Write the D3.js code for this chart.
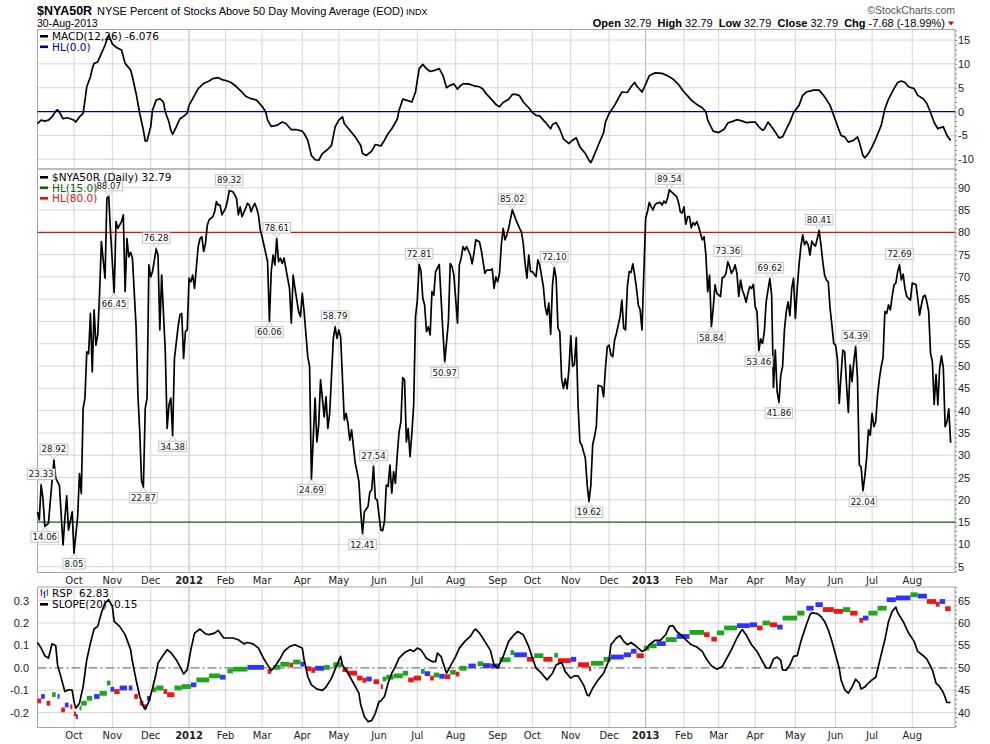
<!DOCTYPE html>
<html>
<head>
<meta charset="utf-8">
<script src="https://cdn.jsdelivr.net/npm/d3@7"></script>
<style>
body { margin: 0; background: #fff; }
</style>
</head>
<body>
<svg width="990" height="744" font-family="DejaVu Sans, Verdana, sans-serif"></svg>
<script>
// session = trading day counted from 2-Sep-2011 (session 0) to 30-Aug-2013 (session 500)
var monthNames = ["Oct","Nov","Dec","2012","Feb","Mar","Apr","May","Jun","Jul","Aug","Sep",
                  "Oct","Nov","Dec","2013","Feb","Mar","Apr","May","Jun","Jul","Aug"];
var monthSessions = [20,41,62,83,103,123,145,165,187,208,229,252,271,292,313,333,354,373,393,415,437,457,479];

var macdTicks = [15,10,5,0,-5,-10];
var mainTicks = [90,85,80,75,70,65,60,55,50,45,40,35,30,25,20,15,10,5];
var rspTicks = [65,60,55,50,45,40];
var slopeTicks = [0.3,0.2,0.1,0.0,-0.1,-0.2];

// $NYA50R daily close [session, value]
var nya50r = [[0,17.3],[1,15.5],[2,23.33],[3,20.3],[4,14.06],[6,14.7],[7,19.6],[9,28.92],[10,24.8],[12,23.3],
[14,9.9],[15,15.8],[16,20.9],[17,13.2],[19,17.3],[20,8.05],[22,16.2],[23,25.9],[24,21.4],[25,40.5],
[26,42.8],[27,53.2],[28,52.8],[29,61.8],[30,48.7],[31,62.6],[32,54.7],[33,57.0],[34,66.3],[35,77.9],
[37,69.7],[38,87.6],[39,88.07],[40,80.1],[42,66.45],[43,82.4],[44,80.9],[46,82.4],[47,83.9],[48,66.7],
[49,78.6],[50,74.5],[51,75.5],[52,74.2],[54,58.8],[55,43.5],[56,35.3],[57,24.1],[58,22.87],[59,40.5],
[60,42.8],[61,72.7],[62,70.0],[63,71.2],[65,76.28],[66,74.9],[67,58.1],[68,70.4],[70,53.2],[71,36.0],
[72,41.3],[73,42.8],[74,34.38],[75,51.7],[77,58.8],[78,61.5],[79,61.8],[80,51.7],[81,57.7],[82,58.1],
[83,69.7],[84,68.9],[85,70.4],[86,67.4],[88,76.8],[89,78.6],[90,79.0],[91,75.7],[92,77.5],[93,81.6],
[94,82.8],[96,83.5],[97,84.6],[98,86.9],[99,86.1],[100,86.1],[101,83.9],[103,85.4],[104,87.0],[105,89.32],
[107,89.1],[108,88.4],[109,87.6],[110,83.9],[111,85.7],[112,83.5],[114,85.4],[115,86.5],[116,86.1],[117,84.6],
[118,85.7],[119,86.5],[120,85.4],[121,83.9],[122,80.5],[123,79.0],[125,75.3],[126,73.4],[127,60.06],[128,71.2],
[129,74.9],[130,72.7],[131,78.61],[132,73.4],[133,74.2],[134,73.0],[135,74.2],[136,71.9],[138,67.4],[139,59.6],
[140,70.4],[141,67.4],[143,62.2],[144,61.1],[145,66.3],[146,62.2],[148,52.1],[149,49.9],[150,24.69],[151,33.8],
[152,42.8],[153,33.0],[154,36.8],[155,46.9],[156,42.8],[157,38.6],[158,43.1],[159,36.0],[160,39.4],[162,56.2],
[163,58.79],[164,56.2],[165,58.1],[166,56.6],[168,37.9],[169,39.4],[170,37.1],[171,33.4],[172,35.7],[174,28.2],
[175,26.3],[176,24.1],[177,17.3],[178,12.41],[179,17.3],[181,18.5],[182,21.8],[183,22.2],[184,27.54],[185,20.3],
[186,20.0],[188,13.2],[189,13.1],[190,15.1],[191,23.3],[192,23.0],[193,27.8],[194,21.5],[195,26.3],[196,23.7],
[197,30.1],[198,35.3],[199,37.5],[200,47.4],[201,46.9],[202,33.0],[203,36.0],[204,29.7],[205,34.9],[206,41.3],
[207,61.1],[208,64.8],[209,72.81],[210,71.2],[211,65.2],[212,63.7],[213,57.7],[214,58.8],[215,57.0],[216,66.7],
[217,65.9],[218,71.2],[220,72.8],[221,65.2],[222,57.7],[223,50.97],[225,59.9],[226,73.0],[227,72.3],[228,70.4],
[230,59.6],[231,72.7],[232,74.2],[233,76.8],[234,76.0],[235,76.8],[237,74.9],[238,72.9],[239,75.3],[240,78.3],
[242,77.9],[243,76.0],[244,73.4],[245,70.8],[246,71.5],[248,71.5],[249,71.8],[250,67.4],[251,70.0],[252,68.9],
[253,70.8],[254,77.2],[255,80.9],[256,78.3],[257,79.4],[258,80.9],[260,85.02],[261,83.9],[262,82.8],[264,80.9],
[265,80.1],[266,77.5],[267,73.0],[268,69.7],[269,74.9],[270,71.2],[271,71.2],[273,70.0],[274,73.8],[275,72.7],
[277,67.8],[278,63.3],[279,61.5],[280,64.1],[281,57.1],[282,68.2],[283,72.10],[284,69.7],[285,58.5],[286,57.7],
[287,47.2],[288,45.0],[289,47.2],[290,44.9],[291,49.3],[292,56.8],[293,49.9],[294,50.3],[295,56.4],[296,41.3],
[297,33.0],[298,32.3],[300,29.3],[301,23.3],[302,19.62],[303,23.3],[304,32.3],[305,34.2],[306,36.4],[307,45.7],
[309,45.4],[310,43.1],[311,49.5],[312,54.3],[313,54.7],[314,52.5],[315,52.1],[316,55.8],[317,57.3],[318,59.2],
[319,61.1],[320,64.8],[321,58.5],[322,58.1],[323,67.8],[324,71.2],[325,71.0],[326,72.9],[327,70.4],[328,67.4],
[329,63.7],[330,62.6],[331,58.1],[333,83.1],[334,84.6],[335,86.7],[336,85.7],[337,85.0],[338,86.1],[339,86.5],
[341,86.7],[342,86.1],[343,87.0],[344,86.5],[345,87.6],[346,89.54],[347,89.1],[349,88.4],[350,88.0],[351,86.7],
[352,84.6],[353,84.3],[354,85.7],[355,81.8],[356,83.5],[357,83.5],[358,81.0],[359,82.2],[360,81.6],[361,82.4],
[362,81.3],[363,79.8],[364,78.3],[365,79.0],[366,74.9],[367,66.7],[368,70.4],[369,58.84],[370,62.9],[371,68.2],
[372,66.3],[374,65.6],[375,69.8],[376,70.0],[377,70.8],[378,73.36],[379,72.3],[380,70.8],[381,71.5],[382,72.7],
[383,70.8],[384,65.6],[385,69.3],[386,67.0],[387,65.9],[388,64.3],[389,66.3],[390,67.8],[391,67.4],[392,68.3],
[393,63.3],[394,62.2],[395,53.46],[396,56.1],[397,55.1],[398,57.7],[399,64.4],[401,69.62],[402,65.9],[403,45.2],
[404,53.6],[405,44.3],[406,41.86],[407,48.0],[408,49.9],[409,58.1],[410,62.2],[411,64.4],[412,61.3],[413,67.4],
[414,69.7],[415,60.7],[416,67.4],[417,72.7],[418,76.8],[419,79.4],[420,77.2],[421,78.0],[422,77.2],[423,74.9],
[424,78.0],[425,77.3],[426,76.9],[427,78.6],[428,80.41],[429,77.2],[430,73.4],[431,70.4],[432,69.3],[433,68.9],
[434,62.9],[435,59.2],[436,55.1],[437,54.7],[438,51.7],[439,41.6],[440,48.0],[441,53.6],[442,53.2],[443,45.8],
[444,39.6],[445,50.2],[446,46.5],[447,51.0],[448,54.39],[449,47.2],[450,27.8],[451,27.4],[452,22.04],[453,25.2],
[454,29.3],[455,35.7],[456,34.5],[457,39.4],[458,36.4],[459,37.5],[460,43.5],[461,47.2],[462,49.9],[463,51.9],
[464,62.2],[465,61.8],[466,63.7],[467,62.6],[468,65.6],[469,68.2],[470,68.6],[471,71.2],[472,72.69],[473,69.3],
[474,70.6],[475,67.4],[476,65.6],[477,65.2],[478,64.8],[479,68.6],[481,68.3],[482,65.2],[483,61.4],[484,63.7],
[485,65.6],[486,65.9],[487,64.4],[488,62.2],[489,52.9],[490,51.0],[491,41.4],[492,48.1],[493,41.3],[494,49.5],
[495,52.3],[496,49.6],[497,36.4],[498,37.5],[499,40.4],[500,32.79]];

var peakLabels = [23.33,28.92,88.07,76.28,89.32,78.61,58.79,27.54,72.81,85.02,72.10,89.54,73.36,69.62,80.41,54.39,72.69];
var troughLabels = [14.06,8.05,66.45,22.87,34.38,60.06,24.69,12.41,50.97,19.62,58.84,53.46,41.86,22.04];

// MACD(12,26) [session, value]
var macd = [[0,-2.5],[2,-1.8],[4,-2.0],[6,-1.8],[8,-1.1],[10,0.1],[11,0.4],[12,-0.1],[14,-1.5],[16,-1.3],
[18,-1.5],[20,-1.8],[21,-2.2],[23,-1.1],[25,-0.4],[26,2.4],[27,5.2],[29,7.3],[30,9.0],[31,10.1],[33,10.4],
[35,12.2],[37,13.9],[38,15.1],[39,16.0],[41,14.2],[43,13.5],[46,12.9],[48,10.1],[51,8.7],[52,7.3],[54,3.8],
[56,-0.4],[58,-3.9],[59,-6.2],[60,-6.1],[62,-3.2],[63,0.3],[65,2.4],[67,2.7],[69,2.0],[70,-0.1],[72,-2.2],
[73,-3.9],[74,-4.8],[76,-3.2],[78,-1.5],[80,-1.0],[82,-0.3],[83,1.3],[85,2.7],[88,4.8],[91,5.9],[94,6.4],
[96,6.9],[99,7.1],[101,6.7],[104,6.4],[106,6.1],[109,5.2],[112,4.1],[114,3.2],[117,2.7],[120,2.4],[123,1.1],
[125,-0.1],[126,-1.8],[128,-3.1],[131,-2.9],[134,-2.2],[136,-2.5],[139,-3.8],[142,-3.8],[145,-4.1],[146,-4.6],
[148,-6.0],[150,-9.2],[152,-10.1],[154,-10.2],[156,-8.8],[159,-7.9],[161,-7.1],[163,-3.2],[165,-1.8],[167,-1.1],
[168,-2.5],[171,-3.9],[174,-5.3],[177,-7.1],[178,-8.8],[180,-9.2],[183,-8.3],[185,-6.9],[188,-7.2],[190,-6.0],
[192,-4.6],[194,-3.6],[197,-1.6],[198,0.3],[200,2.6],[202,2.4],[205,2.0],[207,4.1],[208,6.6],[209,9.0],
[211,9.9],[213,9.0],[215,8.4],[218,8.7],[220,9.0],[222,7.6],[224,5.0],[226,5.5],[228,5.8],[230,4.7],[231,5.2],
[233,5.8],[236,5.8],[239,5.4],[242,5.2],[244,4.7],[246,3.6],[249,2.4],[251,1.5],[253,1.0],[255,1.9],[258,2.6],
[260,3.6],[262,3.6],[264,3.3],[266,2.0],[269,0.8],[271,-0.2],[273,-0.8],[275,-0.9],[278,-2.2],[281,-3.6],
[282,-2.7],[284,-2.3],[286,-3.7],[288,-5.7],[291,-6.7],[293,-6.0],[295,-5.5],[297,-7.4],[300,-8.8],[302,-10.2],
[303,-10.7],[304,-9.9],[307,-7.1],[310,-4.4],[311,-2.2],[313,-0.4],[316,1.3],[318,2.7],[320,4.1],[323,4.0],
[325,5.2],[327,6.1],[328,5.4],[331,4.1],[333,5.7],[335,7.5],[338,8.1],[342,8.0],[345,7.5],[348,6.8],[351,5.7],
[354,4.1],[356,3.3],[358,2.4],[361,1.5],[364,0.8],[366,-0.1],[367,-1.8],[370,-4.1],[373,-4.4],[376,-3.7],
[378,-2.4],[381,-2.0],[383,-1.7],[386,-2.0],[388,-2.3],[391,-2.2],[393,-2.2],[395,-3.2],[397,-3.9],[398,-3.7],
[400,-2.2],[402,-3.2],[404,-4.3],[406,-5.5],[408,-5.3],[410,-3.7],[412,-2.2],[414,-0.2],[417,1.3],[419,3.4],
[421,4.1],[425,4.5],[428,4.5],[431,3.1],[434,1.3],[436,-0.8],[438,-2.9],[440,-5.0],[442,-5.3],[444,-6.4],
[447,-6.0],[449,-5.3],[450,-6.4],[452,-9.2],[453,-9.7],[455,-8.8],[457,-7.4],[459,-5.7],[462,-2.9],[464,0.6],
[466,2.6],[469,4.8],[471,6.1],[473,6.4],[475,6.1],[477,5.2],[480,4.8],[482,3.4],[485,2.7],[487,1.7],[489,-0.2],
[491,-2.3],[493,-3.6],[494,-3.4],[496,-3.2],[498,-5.0],[500,-6.076]];

// SLOPE(20) [session, value]
var slope20 = [[0,0.113],[2,0.088],[4,0.054],[6,0.043],[8,0.107],[10,0.098],[11,0.013],[13,-0.046],[15,-0.106],
[17,-0.098],[19,-0.100],[20,-0.151],[21,-0.180],[23,-0.158],[25,-0.084],[27,0.036],[29,0.110],[31,0.173],
[33,0.185],[35,0.245],[37,0.289],[39,0.304],[41,0.274],[42,0.207],[45,0.185],[48,0.148],[51,0.081],[52,0.028],
[54,-0.054],[56,-0.128],[58,-0.173],[59,-0.185],[61,-0.151],[63,-0.091],[65,-0.024],[66,0.021],[69,0.058],
[71,0.081],[73,0.068],[76,0.036],[78,0.006],[80,-0.027],[82,-0.009],[84,0.081],[86,0.155],[89,0.173],[92,0.151],
[94,0.148],[97,0.155],[99,0.167],[102,0.133],[104,0.133],[107,0.133],[110,0.125],[113,0.107],[115,0.113],
[118,0.107],[121,0.088],[124,0.039],[126,0.013],[128,-0.012],[130,0.006],[133,0.043],[135,0.073],[138,0.095],
[141,0.103],[143,0.095],[145,0.088],[146,0.036],[148,-0.039],[150,-0.076],[153,-0.095],[156,-0.101],[158,-0.086],
[161,-0.046],[164,0.013],[166,0.051],[167,0.013],[170,-0.024],[173,-0.068],[176,-0.113],[177,-0.165],[179,-0.218],
[181,-0.240],[183,-0.236],[185,-0.203],[187,-0.151],[188,-0.148],[190,-0.128],[192,-0.068],[194,-0.024],[196,0.006],
[198,0.043],[201,0.068],[204,0.081],[206,0.073],[208,0.088],[210,0.080],[213,0.043],[216,0.028],[218,0.028],
[219,0.066],[221,0.050],[223,-0.001],[224,-0.024],[226,0.006],[229,0.051],[231,0.088],[234,0.118],[237,0.140],
[239,0.167],[240,0.173],[242,0.155],[245,0.118],[248,0.078],[250,0.013],[252,-0.001],[255,0.051],[258,0.118],
[261,0.148],[263,0.162],[266,0.148],[269,0.095],[271,0.043],[273,-0.001],[276,-0.024],[279,-0.054],[282,-0.024],
[284,0.013],[287,0.024],[289,-0.017],[292,-0.046],[294,-0.036],[296,-0.036],[299,-0.076],[301,-0.121],[302,-0.125],
[304,-0.091],[307,-0.054],[310,-0.024],[313,0.036],[314,0.103],[317,0.133],[319,0.143],[321,0.118],[323,0.103],
[325,0.113],[328,0.095],[331,0.073],[333,0.081],[335,0.103],[338,0.122],[341,0.122],[344,0.148],[346,0.185],
[348,0.188],[350,0.162],[353,0.143],[355,0.125],[358,0.103],[361,0.093],[364,0.073],[366,0.043],[369,0.009],
[372,-0.006],[375,0.006],[377,0.036],[380,0.081],[383,0.133],[385,0.162],[386,0.170],[388,0.148],[391,0.103],
[394,0.073],[397,0.028],[399,-0.001],[401,0.000],[403,0.039],[405,0.048],[407,0.033],[408,-0.009],[410,-0.010],
[412,0.013],[414,0.051],[416,0.054],[418,0.118],[421,0.192],[423,0.237],[424,0.245],[427,0.242],[429,0.229],
[431,0.207],[433,0.170],[435,0.118],[437,0.058],[439,-0.001],[440,-0.054],[442,-0.098],[444,-0.113],[446,-0.086],
[448,-0.051],[450,-0.068],[451,-0.095],[453,-0.086],[455,-0.068],[457,-0.054],[459,-0.042],[460,-0.009],[462,0.060],
[464,0.125],[466,0.207],[468,0.252],[470,0.271],[471,0.247],[474,0.207],[477,0.155],[480,0.118],[482,0.073],
[485,0.054],[487,0.039],[490,-0.009],[492,-0.068],[494,-0.084],[496,-0.110],[498,-0.155],[500,-0.155]];

// RSP price, runs of colour-coded bars [from session, to session, price, colour]
var rspBars = [[0,2,42.6,'r'],[2,4,43.6,'b'],[5,7,42.1,'r'],[8,10,44.0,'g'],[11,12,43.6,'b'],[13,15,40.6,'r'],
[15,17,41.7,'b'],[18,19,41.3,'r'],[20,21,39.7,'r'],[21,22,39.1,'b'],[23,24,41.0,'g'],[24,27,42.1,'g'],
[27,30,43.2,'g'],[31,34,43.6,'b'],[34,38,44.3,'g'],[38,40,46.6,'g'],[40,42,45.2,'b'],[42,45,44.7,'r'],
[45,49,45.5,'b'],[50,52,45.5,'b'],[53,55,43.6,'r'],[56,58,42.1,'r'],[58,60,41.3,'r'],[60,62,43.2,'b'],
[63,65,45.1,'g'],[65,69,45.5,'g'],[69,71,44.7,'r'],[71,75,44.0,'r'],[75,79,45.5,'g'],[79,84,45.8,'g'],
[84,87,46.2,'b'],[87,94,47.3,'g'],[94,100,48.2,'g'],[100,103,47.9,'b'],[104,107,49.3,'g'],[107,115,49.7,'g'],
[115,124,50.1,'b'],[126,128,49.2,'r'],[129,133,50.1,'g'],[133,138,50.8,'g'],[138,140,50.6,'r'],[140,144,51.3,'g'],
[144,146,50.8,'b'],[147,150,49.8,'r'],[150,152,49.4,'r'],[152,157,49.9,'b'],[157,160,50.1,'g'],[162,167,50.7,'g'],
[167,170,49.6,'r'],[170,175,48.8,'r'],[175,178,47.7,'r'],[178,180,47.2,'r'],[180,183,47.5,'b'],[184,187,46.9,'r'],
[188,189,45.8,'r'],[189,191,47.5,'g'],[191,195,47.9,'g'],[195,200,48.2,'g'],[200,203,48.8,'g'],[203,206,47.3,'r'],
[206,210,47.7,'r'],[210,212,49.2,'g'],[212,215,48.7,'b'],[215,217,47.7,'r'],[217,220,48.4,'g'],[220,223,48.1,'b'],
[223,226,48.0,'r'],[226,229,49.0,'g'],[229,231,48.6,'r'],[231,235,49.9,'g'],[236,240,50.4,'b'],[241,244,50.9,'g'],
[244,248,50.5,'b'],[248,253,50.4,'b'],[253,259,51.8,'g'],[259,261,53.4,'g'],[261,268,52.9,'b'],[268,272,51.9,'r'],
[272,277,52.7,'g'],[277,282,51.9,'r'],[283,285,52.8,'g'],[285,292,51.6,'r'],[292,295,51.9,'b'],[296,302,50.7,'r'],
[302,303,49.8,'r'],[303,310,51.0,'g'],[310,314,51.9,'g'],[314,321,52.4,'b'],[321,325,52.9,'b'],[325,328,53.7,'b'],
[328,332,52.7,'r'],[332,335,54.4,'g'],[335,339,54.9,'g'],[339,344,55.4,'b'],[344,350,56.3,'g'],[350,357,57.0,'b'],
[357,365,57.9,'g'],[365,368,57.4,'r'],[369,372,56.4,'r'],[372,376,57.8,'g'],[376,383,58.9,'g'],[383,390,59.4,'b'],
[390,394,59.6,'b'],[394,397,58.9,'r'],[397,401,60.0,'g'],[401,405,59.6,'r'],[405,408,59.1,'b'],[408,416,61.1,'g'],
[416,420,62.2,'g'],[421,425,63.3,'b'],[426,430,64.1,'b'],[430,436,63.0,'r'],[436,441,62.6,'r'],[441,445,63.0,'g'],
[445,449,62.2,'r'],[450,452,60.6,'r'],[452,455,61.1,'b'],[455,460,62.2,'g'],[460,465,63.3,'g'],[465,470,65.2,'b'],
[470,478,65.6,'b'],[478,482,66.3,'g'],[482,487,66.0,'b'],[487,492,64.8,'r'],[492,494,64.2,'r'],[494,497,64.8,'b'],
[497,500,63.2,'r']];

var barColors = {g: '#1ea61e', r: '#f01414', b: '#3232ff'};


var svg = d3.select('svg');

var x = d3.scaleLinear().domain([0, 502.4]).range([37.47, 955]);
var yMacd = d3.scaleLinear().domain([-10, 15]).range([159.3, 40]);
var yMain = d3.scaleLinear().domain([5, 90]).range([566.7, 187.7]);
var ySlope = d3.scaleLinear().domain([-0.2, 0.3]).range([712.6, 600.6]);
var yRsp = d3.scaleLinear().domain([40, 65]).range([712.6, 600.6]);

var plotL = 37.5, plotR = 955;
var sans = 'Liberation Sans, Arial, sans-serif';


//background grid + frame for one panel
function drawPanel(top, bottom, yScale, ticks, minorStep) {
    var g = svg.append('g');
    g.selectAll('.vgrid')
        .data(monthSessions)
        .enter().append('line')
        .attr('x1', function(d) { return x(d); })
        .attr('x2', function(d) { return x(d); })
        .attr('y1', top).attr('y2', bottom)
        .attr('stroke', function(d, i) { return monthNames[i].length == 4 ? '#b4b4b4' : '#d6d6d6'; })
        .attr('stroke-width', 1);
    g.selectAll('.hgrid')
        .data(ticks)
        .enter().append('line')
        .attr('x1', plotL).attr('x2', plotR)
        .attr('y1', function(d) { return yScale(d); })
        .attr('y2', function(d) { return yScale(d); })
        .attr('stroke', '#d6d6d6')
        .attr('stroke-width', 1);
    g.append('rect')
        .attr('x', plotL).attr('y', top)
        .attr('width', plotR - plotL).attr('height', bottom - top)
        .attr('fill', 'none').attr('stroke', '#a6a6a6');

    var lo = yScale.invert(bottom), hi = yScale.invert(top);
    var minor = [];
    for (var v = Math.ceil(lo / minorStep) * minorStep; v <= hi; v += minorStep) {
        minor.push(v);
    }
    var ax = g.append('g')
        .attr('transform', 'translate(' + plotR + ',0)')
        .call(d3.axisRight(yScale).tickValues(minor).tickSize(2).tickFormat(''));
    ax.select('.domain').remove();
    ax.selectAll('line').attr('stroke', '#8a8a8a');
    return g;
}

function rightLabels(yScale, ticks, fmt) {
    svg.append('g').selectAll('text')
        .data(ticks)
        .enter().append('text')
        .attr('x', 958)
        .attr('y', function(d) { return yScale(d) + 4; })
        .attr('font-family', sans)
        .attr('font-size', 11)
        .attr('fill', '#222')
        .text(fmt);
}

function monthLabels(yPos) {
    svg.append('g').selectAll('text')
        .data(monthSessions)
        .enter().append('text')
        .attr('x', function(d) { return x(d); })
        .attr('y', yPos)
        .attr('text-anchor', 'middle')
        .attr('font-size', 10)
        .attr('font-weight', function(d, i) { return monthNames[i].length == 4 ? 'bold' : 'normal'; })
        .attr('fill', '#222')
        .text(function(d, i) { return monthNames[i]; });
}

function legendRow(xPos, yPos, color, label) {
    svg.append('rect').attr('x', xPos).attr('y', yPos - 5).attr('width', 8).attr('height', 2.6).attr('fill', color);
    svg.append('text').attr('x', xPos + 12).attr('y', yPos)
        .attr('font-size', 10.5).attr('fill', color).text(label);
}


/****** MACD panel ******/
drawPanel(29.5, 169, yMacd, macdTicks.filter(function(d) { return d != 0; }), 1);
svg.append('line')
    .attr('x1', plotL).attr('x2', plotR)
    .attr('y1', yMacd(0)).attr('y2', yMacd(0))
    .attr('stroke', '#00007f').attr('stroke-width', 1.3);
svg.append('path')
    .datum(macd)
    .attr('fill', 'none').attr('stroke', '#000').attr('stroke-width', 1.7)
    .attr('stroke-linejoin', 'round')
    .attr('d', d3.line().x(function(d) { return x(d[0]); }).y(function(d) { return yMacd(d[1]); }));
rightLabels(yMacd, macdTicks, function(d) { return d; });


/****** main panel ******/
drawPanel(169, 572.5, yMain, mainTicks.filter(function(d) { return d != 15 && d != 80; }), 1);
svg.append('line')
    .attr('x1', plotL).attr('x2', plotR)
    .attr('y1', yMain(15)).attr('y2', yMain(15))
    .attr('stroke', '#0a640a').attr('stroke-width', 1.2);
svg.append('line')
    .attr('x1', plotL).attr('x2', plotR)
    .attr('y1', yMain(80)).attr('y2', yMain(80))
    .attr('stroke', '#dd1111').attr('stroke-width', 1.2);
svg.append('path')
    .datum(nya50r)
    .attr('fill', 'none').attr('stroke', '#000').attr('stroke-width', 1.7)
    .attr('stroke-linejoin', 'round')
    .attr('d', d3.line().x(function(d) { return x(d[0]); }).y(function(d) { return yMain(d[1]); }));
rightLabels(yMain, mainTicks, function(d) { return d; });

//value tags on highs and lows
var tagG = svg.append('g');
function addTag(value, isPeak) {
    var pt = nya50r.find(function(d) { return d[1] == value; });
    if (!pt) return;
    var cx = x(pt[0]), cy = yMain(pt[1]);
    var txt = value.toFixed(2);
    var t = tagG.append('text').attr('font-size', 8.6).attr('text-anchor', 'middle').text(txt);
    var w = t.node().getComputedTextLength() + 3, h = 10.5;
    var by = isPeak ? cy - 5.5 - h : cy + 5.5;
    var edge = isPeak ? by + h : by;
    tagG.insert('path', 'text')
        .attr('d', 'M' + (cx - 4) + ',' + edge + 'L' + cx + ',' + (isPeak ? cy - 1 : cy + 1) + 'L' + (cx + 4) + ',' + edge)
        .attr('fill', '#fff').attr('stroke', '#c4c4c4');
    tagG.insert('rect', 'text')
        .attr('x', cx - w / 2).attr('y', by).attr('width', w).attr('height', h)
        .attr('fill', '#fff').attr('stroke', '#c4c4c4');
    t.attr('x', cx).attr('y', by + 8.4).attr('fill', '#111');
    tagG.node().appendChild(t.node());
}
peakLabels.forEach(function(v) { addTag(v, true); });
troughLabels.forEach(function(v) { addTag(v, false); });


/****** RSP / slope panel ******/
drawPanel(587, 727.5, ySlope, slopeTicks.filter(function(d) { return d != 0; }), 0.02);
svg.append('line')
    .attr('x1', plotL).attr('x2', plotR)
    .attr('y1', ySlope(0)).attr('y2', ySlope(0))
    .attr('stroke', '#7a7a7a').attr('stroke-width', 1.2)
    .attr('stroke-dasharray', '9,3,2,3');
svg.append('g').selectAll('rect')
    .data(rspBars)
    .enter().append('rect')
    .attr('x', function(d) { return x(d[0]); })
    .attr('width', function(d) { return Math.max(2, x(d[1]) - x(d[0])); })
    .attr('y', function(d) { return yRsp(d[2]) - 2.4; })
    .attr('height', 4.8)
    .attr('fill', function(d) { return barColors[d[3]]; });
svg.append('path')
    .datum(slope20)
    .attr('fill', 'none').attr('stroke', '#000').attr('stroke-width', 1.7)
    .attr('stroke-linejoin', 'round')
    .attr('d', d3.line().x(function(d) { return x(d[0]); }).y(function(d) { return ySlope(d[1]); }));
rightLabels(yRsp, rspTicks, function(d) { return d; });
svg.append('g').selectAll('text')
    .data(slopeTicks)
    .enter().append('text')
    .attr('x', 29)
    .attr('y', function(d) { return ySlope(d) + 4; })
    .attr('text-anchor', 'end')
    .attr('font-family', sans)
    .attr('font-size', 11)
    .attr('fill', '#222')
    .text(function(d) { return d.toFixed(1); });

monthLabels(584);
monthLabels(738.5);


/****** legends ******/
legendRow(40, 40, '#000', 'MACD(12,26) -6.076');
legendRow(40, 50.5, '#00007f', 'HL(0.0)');
legendRow(40, 181, '#000', '$NYA50R (Daily) 32.79');
legendRow(40, 191.5, '#0a640a', 'HL(15.0)');
legendRow(40, 202, '#dd1111', 'HL(80.0)');
legendRow(40, 608, '#000', 'SLOPE(20) -0.15');

//RSP bar icon
var icon = svg.append('g');
[['r', 41.5, 589, 596], ['b', 44.5, 591, 598], ['g', 47.5, 589, 596]].forEach(function(b) {
    icon.append('line').attr('x1', b[1]).attr('x2', b[1]).attr('y1', b[2]).attr('y2', b[3])
        .attr('stroke', barColors[b[0]]).attr('stroke-width', 1.3);
    icon.append('line').attr('x1', b[1] - 1.5).attr('x2', b[1]).attr('y1', b[2] + 2).attr('y2', b[2] + 2)
        .attr('stroke', barColors[b[0]]).attr('stroke-width', 1);
});
svg.append('text').attr('x', 52).attr('y', 596.5).attr('font-size', 10.5).attr('fill', '#000')
    .attr('xml:space', 'preserve').text('RSP  62.83');


/****** header ******/
svg.append('text').attr('x', 37).attr('y', 15)
    .attr('font-family', sans).attr('font-size', 12.5).attr('font-weight', 'bold').text('$NYA50R');
svg.append('text').attr('x', 97).attr('y', 15)
    .attr('font-family', sans).attr('font-size', 11)
    .text('NYSE Percent of Stocks Above 50 Day Moving Average (EOD)');
svg.append('text').attr('x', 406).attr('y', 15)
    .attr('font-family', sans).attr('font-size', 9).text('INDX');

svg.append('text').attr('x', 37).attr('y', 26.5)
    .attr('font-family', sans)
    .attr('font-size', 10.5).text('30-Aug-2013');

svg.append('text').attr('x', 955).attr('y', 13.5).attr('text-anchor', 'end')
    .attr('font-family', sans)
    .attr('font-size', 10.5).attr('fill', '#555').text('\u00a9StockCharts.com');

var quote = svg.append('text').attr('x', 945).attr('y', 26.5).attr('text-anchor', 'end')
    .attr('font-family', sans).attr('font-size', 11)
    .attr('xml:space', 'preserve');
[['Open', ' 32.79  '], ['High', ' 32.79  '], ['Low', ' 32.79  '], ['Close', ' 32.79  '], ['Chg', ' -7.68 (-18.99%)']]
    .forEach(function(p) {
        quote.append('tspan').attr('font-weight', 'bold').text(p[0]);
        quote.append('tspan').text(p[1]);
    });
svg.append('path').attr('d', 'M948,21.5L954,21.5L951,25.5Z').attr('fill', '#dd0000');
</script>
</body>
</html>
